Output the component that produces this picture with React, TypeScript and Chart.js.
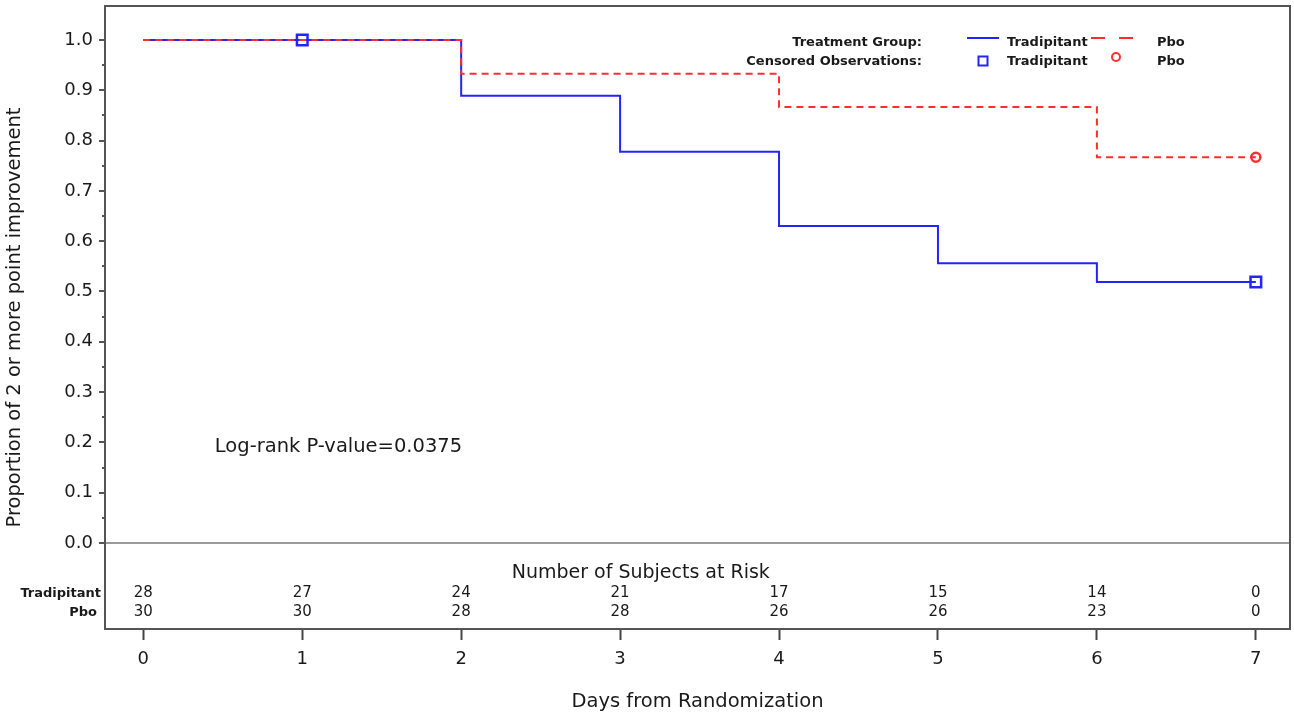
import React, { useEffect, useRef } from 'react';
import { Chart, registerables } from 'chart.js';

Chart.register(...registerables);

// ---- Data ----
const tradDays = [0, 2, 3, 4, 5, 6, 7];
const tradSurv = [1.0, 0.889, 0.778, 0.63, 0.556, 0.519, 0.519];
const pboDays = [0, 2, 4, 6, 7];
const pboSurv = [1.0, 0.933, 0.867, 0.767, 0.767];
const tradCensDays = [1, 7];
const tradCensSurv = [1.0, 0.519];
const pboCensDays = [7];
const pboCensSurv = [0.767];
const riskDays = [0, 1, 2, 3, 4, 5, 6, 7];
const riskTrad = [28, 27, 24, 21, 17, 15, 14, 0];
const riskPbo = [30, 30, 28, 28, 26, 26, 23, 0];
const xTickValues = [0, 1, 2, 3, 4, 5, 6, 7];
const yTickValues = [0, 0.05, 0.1, 0.15, 0.2, 0.25, 0.3, 0.35, 0.4, 0.45, 0.5, 0.55, 0.6, 0.65, 0.7, 0.75, 0.8, 0.85, 0.9, 0.95, 1.0];
const groupNames = ['Tradipitant', 'Pbo'];
const pValueText = 'Log-rank P-value=0.0375';

const FONT = '"DejaVu Sans", Verdana, sans-serif';
const BLUE = '#2424ff';
const RED = '#ff2e2e';
const TEXT = '#1a1a1a';

const toPts = (xs: number[], ys: number[]) => xs.map((x, i) => ({ x, y: ys[i] }));

const decorPlugin = {
  id: 'kmDecor',
  afterDraw(chart: any) {
    const ctx = chart.ctx as CanvasRenderingContext2D;
    const { left, right, top, bottom } = chart.chartArea;
    const xs = chart.scales.x;
    const ys = chart.scales.y;
    ctx.save();

    // frame
    ctx.strokeStyle = '#555';
    ctx.lineWidth = 2;
    ctx.setLineDash([]);
    ctx.strokeRect(left, top, right - left, bottom - top);

    // y tick marks (major + minor)
    ctx.strokeStyle = '#555';
    ctx.lineWidth = 2;
    yTickValues.forEach((v, i) => {
      const py = Math.round(ys.getPixelForValue(v));
      const len = i % 2 === 0 ? 6 : 3;
      ctx.beginPath();
      ctx.moveTo(left - len, py);
      ctx.lineTo(left, py);
      ctx.stroke();
    });

    // p-value
    ctx.fillStyle = TEXT;
    ctx.font = `19.5px ${FONT}`;
    ctx.textAlign = 'left';
    ctx.textBaseline = 'middle';
    ctx.fillText(pValueText, xs.getPixelForValue(0.45), ys.getPixelForValue(0.19));

    // risk table
    ctx.textAlign = 'center';
    ctx.font = `19px ${FONT}`;
    ctx.fillText('Number of Subjects at Risk', xs.getPixelForValue(3.13), ys.getPixelForValue(-0.06));
    ctx.font = `bold 13px ${FONT}`;
    const yT = ys.getPixelForValue(-0.1);
    const yP = ys.getPixelForValue(-0.138);
    ctx.textAlign = 'right';
    ctx.fillText(groupNames[0], left - 4, yT);
    ctx.fillText(groupNames[1], left - 8, yP);
    ctx.textAlign = 'center';
    ctx.font = `15px ${FONT}`;
    riskDays.forEach((d, i) => {
      const px = xs.getPixelForValue(d);
      ctx.fillText(String(riskTrad[i]), px, yT);
      ctx.fillText(String(riskPbo[i]), px, yP);
    });

    // legend
    const lx = right - 368; // right edge of legend headers
    const row1 = top + 37;
    const row2 = top + 56;
    ctx.font = `bold 13px ${FONT}`;
    ctx.textAlign = 'right';
    ctx.fillText('Treatment Group:', lx, row1);
    ctx.fillText('Censored Observations:', lx, row2);
    ctx.textAlign = 'left';
    ctx.fillText(groupNames[0], lx + 85, row1);
    ctx.fillText(groupNames[1], lx + 235, row1);
    ctx.fillText(groupNames[0], lx + 85, row2);
    ctx.fillText(groupNames[1], lx + 235, row2);
    // blue solid line sample
    ctx.strokeStyle = BLUE;
    ctx.lineWidth = 2;
    ctx.beginPath();
    ctx.moveTo(lx + 45, row1 - 5);
    ctx.lineTo(lx + 77, row1 - 5);
    ctx.stroke();
    // red dashed sample
    ctx.strokeStyle = RED;
    ctx.setLineDash([14, 14]);
    ctx.beginPath();
    ctx.moveTo(lx + 169, row1 - 5);
    ctx.lineTo(lx + 212, row1 - 5);
    ctx.stroke();
    ctx.setLineDash([]);
    // blue square
    ctx.strokeStyle = BLUE;
    ctx.lineWidth = 2;
    ctx.strokeRect(lx + 61 - 4.5, row2 - 4.5 - 1, 9, 9);
    // red circle
    ctx.strokeStyle = RED;
    ctx.beginPath();
    ctx.arc(lx + 194, row2 - 5, 4, 0, Math.PI * 2);
    ctx.stroke();

    ctx.restore();
  },
};

export default function App() {
  const canvasRef = useRef<HTMLCanvasElement | null>(null);

  useEffect(() => {
    document.body.style.margin = '0';
    const canvas = canvasRef.current;
    if (!canvas) return;
    const chart = new Chart(canvas, {
      type: 'line',
      data: {
        datasets: [
          {
            label: 'Pbo censored',
            data: toPts(pboCensDays, pboCensSurv),
            showLine: false,
            pointStyle: 'circle',
            pointRadius: 4.5,
            pointBorderWidth: 2.5,
            pointBorderColor: RED,
            pointBackgroundColor: 'rgba(255,255,255,0)',
            order: -2,
          },
          {
            label: 'Tradipitant censored',
            data: toPts(tradCensDays, tradCensSurv),
            showLine: false,
            pointStyle: 'rect',
            pointRadius: 7.5,
            pointBorderWidth: 2.5,
            pointBorderColor: BLUE,
            pointBackgroundColor: 'rgba(255,255,255,0)',
            order: -1,
          },
          {
            label: 'Pbo',
            data: toPts(pboDays, pboSurv),
            stepped: 'before',
            borderColor: RED,
            borderWidth: 2,
            borderDash: [7, 5],
            pointRadius: 0,
            fill: false,
            order: 0,
          },
          {
            label: 'Tradipitant',
            data: toPts(tradDays, tradSurv),
            stepped: 'before',
            borderColor: BLUE,
            borderWidth: 2,
            pointRadius: 0,
            fill: false,
            order: 1,
          },
        ],
      } as any,
      options: {
        animation: false,
        responsive: true,
        maintainAspectRatio: false,
        layout: { autoPadding: false, padding: { top: 6, right: 4, left: 0, bottom: 0 } },
        plugins: { legend: { display: false }, tooltip: { enabled: false } },
        scales: {
          x: {
            type: 'linear',
            min: -0.241,
            max: 7.215,
            afterFit: (s: any) => { s.height = 93; s.paddingLeft = 0; s.paddingRight = 0; },
            afterBuildTicks: (s: any) => { s.ticks = xTickValues.map((v) => ({ value: v })); },
            border: { display: false },
            grid: {
              drawOnChartArea: false,
              drawTicks: true,
              tickLength: 11,
              tickColor: '#444',
              tickWidth: 2,
              color: '#444',
            },
            ticks: {
              autoSkip: false,
              maxRotation: 0,
              padding: 9,
              color: TEXT,
              font: { family: FONT, size: 18 },
              callback: (v: any) => String(v),
            },
            title: {
              display: true,
              text: 'Days from Randomization',
              color: TEXT,
              font: { family: FONT, size: 19.5 },
              padding: { top: 0, bottom: 8 },
            },
          },
          y: {
            type: 'linear',
            min: -0.171,
            max: 1.0676,
            afterFit: (s: any) => { s.width = 105; s.paddingTop = 0; s.paddingBottom = 0; },
            afterBuildTicks: (s: any) => { s.ticks = yTickValues.map((v) => ({ value: v })); },
            border: { display: false },
            grid: {
              drawTicks: false,
              lineWidth: 2,
              color: (c: any) => (c.tick && Math.abs(c.tick.value) < 1e-9 ? '#9a9a9a' : 'rgba(0,0,0,0)'),
            },
            ticks: {
              autoSkip: false,
              padding: 12,
              color: TEXT,
              font: { family: FONT, size: 18 },
              callback: (v: any) => {
                const k = Math.round(Number(v) * 100);
                return k % 10 === 0 ? (k / 100).toFixed(1) : '';
              },
            },
            title: {
              display: true,
              text: 'Proportion of 2 or more point improvement',
              color: TEXT,
              font: { family: FONT, size: 19.5 },
              padding: { top: 3, bottom: 0 },
            },
          },
        },
      } as any,
      plugins: [decorPlugin],
    });
    return () => chart.destroy();
  }, []);

  return (
    <div style={{ position: 'relative', width: 1294, height: 722, background: '#fff' }}>
      <canvas ref={canvasRef} />
    </div>
  );
}
